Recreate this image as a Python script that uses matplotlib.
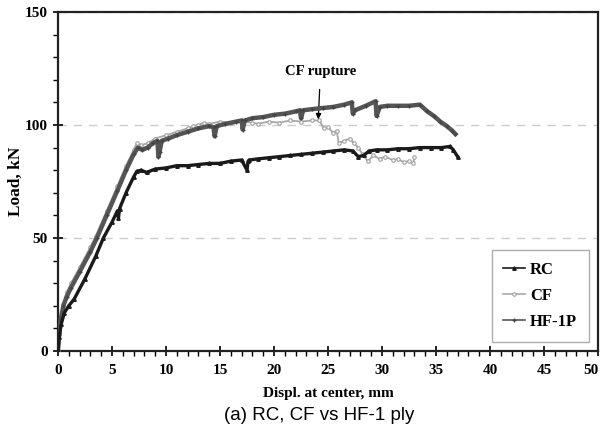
"""Load vs. mid-span displacement: RC, CF and HF-1P beams."""

import matplotlib

matplotlib.use("Agg")
import matplotlib.pyplot as plt
from matplotlib.ticker import MultipleLocator
from matplotlib.transforms import ScaledTranslation

SERIF = ["Liberation Serif", "DejaVu Serif"]

# HF-1P (hybrid fibre, 1 ply)
HF_X = [0, 0.1, 0.25, 0.5, 0.8, 1.2, 2.0, 3.0, 3.6, 4.5, 5.5, 6.3, 7.0, 7.4, 7.8,
        8.3, 8.8, 9.2, 9.3, 9.4, 9.6, 10.2, 11.0, 12.0, 13.0, 14.0, 14.4, 14.5,
        14.7, 15.5, 16.5, 17.0, 17.1, 17.3, 18.0, 19.0, 20.0, 21.0, 22.0, 22.4,
        22.5, 22.7, 23.5, 24.5, 25.5, 26.5, 27.2, 27.3, 27.5, 28.5, 29.4, 29.5,
        29.8, 30.5, 31.5, 32.5, 33.5, 34.2, 34.8, 35.4, 36.0, 36.5, 36.8]
HF_Y = [0, 7, 14, 20, 24, 28, 35, 44, 50, 60, 71, 80, 87, 90, 89,
        90, 92, 93, 86, 88, 93, 94, 95.5, 97, 98.5, 99.5, 99, 95,
        99.5, 100.5, 101.5, 102, 98, 102, 103, 103.5, 104.5, 105, 106, 106.5,
        103, 106.5, 107, 107.5, 108, 109, 110, 105, 106.5, 108.5, 110.5, 104,
        108, 108.5, 108.5, 108.5, 109, 106, 104, 101.5, 99.5, 97.5, 96]

# CF (carbon fibre sheet)
CF_X = [0, 0.1, 0.25, 0.5, 0.8, 1.2, 2.0, 3.0, 3.5, 4.5, 5.5, 6.3, 7.0, 7.3,
        7.7, 8.3, 9.0, 10.0, 11.0, 12.0, 12.5, 13.0, 13.5, 14.0, 15.0, 16.0,
        17.0, 18.0, 18.5, 19.5, 20.5, 21.5, 22.5, 23.5, 24.2, 24.6, 25.0, 25.5,
        25.8, 26.0, 26.5, 27.0, 27.4, 27.8, 28.2, 28.7, 29.2, 29.8, 30.3, 31.0,
        31.5, 32.0, 32.5, 32.9, 33.0]
CF_Y = [0, 8, 15, 21, 26, 30, 37, 46, 51, 62, 73, 82, 89, 92,
        91, 92, 94, 95.5, 97, 98.5, 99.5, 100, 101, 100.5, 101.5, 101,
        101.5, 101, 100.5, 101.5, 101, 102, 101.5, 102, 102, 98.5, 99, 96.5,
        97.5, 92, 93, 94, 92, 90, 87, 84, 86.5, 85, 86, 84.5,
        85, 83.5, 84, 83, 86]

# RC (control beam)
RC_X = [0, 0.1, 0.3, 0.6, 1.0, 1.5, 2.5, 3.5, 4.2, 5.0, 5.5, 5.6, 5.7, 6.3,
        7.0, 7.3, 7.7, 8.2, 9.0, 10.0, 11.0, 12.0, 13.0, 14.0, 15.0, 16.0,
        17.0, 17.5, 17.6, 17.7, 18.5, 19.5, 20.5, 21.5, 22.5, 23.5, 24.5, 25.5,
        26.5, 27.3, 27.8, 28.3, 28.8, 29.5, 30.5, 31.5, 32.5, 33.5, 34.5, 35.5,
        36.3, 36.6, 37.0]
RC_Y = [0, 6, 12, 17, 20, 23, 32, 42, 50, 57, 62, 59, 63, 70,
        77, 79.5, 80, 79, 80.5, 81, 82, 82, 82.5, 83, 83, 84,
        84.5, 80, 84, 84.5, 85, 85.5, 86, 86.5, 87, 87.5, 88, 88.5,
        89, 88.5, 86, 86.5, 88.5, 89, 89, 89.5, 89.5, 90, 90, 90,
        90.5, 89, 86]


def main() -> None:
    fig = plt.figure(figsize=(6.03, 4.36), dpi=100)
    ax = fig.add_axes([0.0962, 0.195, 0.8955, 0.7775])

    ax.plot(CF_X, CF_Y, color="#a8a8a8", lw=1.3, marker="o", ms=2.5,
            mfc="white", mec="#a0a0a0", mew=0.8, label="CF", zorder=3)
    ax.plot(HF_X, HF_Y, color="#555555", lw=3.2, marker="+", ms=3,
            mec="#444444", label="HF-1P", zorder=4)
    ax.plot(RC_X, RC_Y, color="#1a1a1a", lw=2.4, marker="^", ms=2.5,
            label="RC", zorder=5)

    ax.annotate("CF rupture", xy=(24.1, 102.5), xytext=(24.3, 123.5),
                ha="center", va="center", fontsize=10.5, fontweight="bold",
                family=SERIF,
                arrowprops=dict(arrowstyle="-|>", color="black", lw=0.9,
                                mutation_scale=8, shrinkA=6, shrinkB=0))

    ax.set_xlim(0, 50)
    ax.set_ylim(0, 150)
    ax.xaxis.set_major_locator(MultipleLocator(5))
    ax.xaxis.set_minor_locator(MultipleLocator(1))
    ax.yaxis.set_major_locator(MultipleLocator(50))
    ax.yaxis.set_minor_locator(MultipleLocator(10))
    ax.yaxis.grid(True, which="major", color="#cccccc", ls=(0, (6, 5)), lw=1)
    ax.set_axisbelow(True)

    for spine in ax.spines.values():
        spine.set_linewidth(1.6)
        spine.set_color("#222222")
    ax.tick_params(which="major", direction="inout", length=7, width=1.2)
    ax.tick_params(which="minor", direction="out", length=3.5, width=1)
    ax.tick_params(axis="x", labelsize=11, pad=6)
    ax.tick_params(axis="y", labelsize=11, pad=4)
    for label in ax.get_xticklabels() + ax.get_yticklabels():
        label.set_fontweight("bold")
        label.set_family(SERIF)

    ax.set_xlabel("Displ. at center, mm", fontsize=11, fontweight="bold",
                  family=SERIF)
    ax.xaxis.set_label_coords(0.5, -0.105)
    ax.set_ylabel("Load, kN", fontsize=12.5, fontweight="bold", family=SERIF)
    ax.yaxis.set_label_coords(-0.064, 0.5)

    handles, labels = ax.get_legend_handles_labels()
    order = [2, 0, 1]
    leg = ax.legend([handles[i] for i in order], [labels[i] for i in order],
                    loc="lower right", bbox_to_anchor=(0.983, 0.027),
                    borderaxespad=0, fancybox=False, handlelength=1.3,
                    handletextpad=0.3, labelspacing=0.6, borderpad=0.7,
                    prop={"family": SERIF, "weight": "bold", "size": 12})
    leg.get_frame().set_edgecolor("#999999")
    leg.get_frame().set_linewidth(1)
    for line in leg.get_lines():
        line.set_linewidth(1.2)

    fig.text(0.53, 0.048, "(a) RC, CF vs HF-1 ply", ha="center", va="center",
             fontsize=13.5, family=["Liberation Sans", "DejaVu Sans"])

    # keep the "50" at the right edge inside the figure
    fig.canvas.draw()
    for tick in ax.xaxis.get_major_ticks():
        if tick.get_loc() == 50:
            lab = tick.label1
            lab.set_transform(lab.get_transform()
                              + ScaledTranslation(-5 / 72, 0, fig.dpi_scale_trans))

    fig.savefig("out.png", dpi=100)
    plt.close(fig)


if __name__ == "__main__":
    main()
